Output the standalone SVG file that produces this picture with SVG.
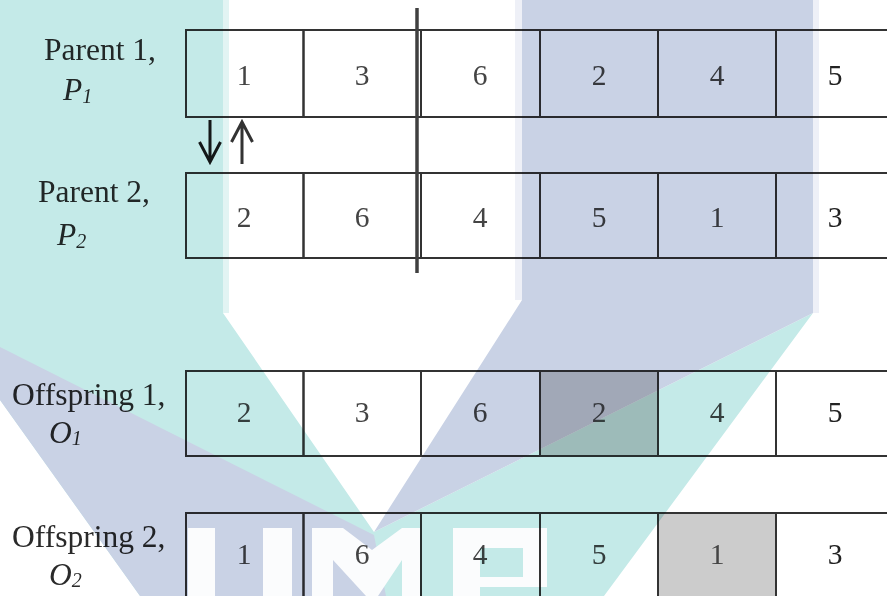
<svg xmlns="http://www.w3.org/2000/svg" width="887" height="596" viewBox="0 0 887 596">
<style>
.cell{fill:none;stroke:#333;stroke-width:2}
.gray{fill:#cccccc;stroke:#333;stroke-width:2}
.lbl{font-family:"Liberation Serif","Times New Roman",serif;font-size:31.5px;fill:#2a2a2a}
.sym{font-family:"Liberation Serif","Times New Roman",serif;font-style:italic;font-size:31.5px;fill:#2a2a2a}
.sub{font-size:20px}
.num{font-family:"Liberation Serif","Times New Roman",serif;font-size:29.5px;text-anchor:middle;fill:#444}
.dk{fill:#222}
.arrow{fill:none;stroke-width:3;stroke-linecap:butt;stroke-linejoin:miter}
</style>
<rect x="0" y="0" width="887" height="596" fill="#ffffff"/>

<g id="parent1">
  <text class="lbl" x="44" y="60">Parent 1,</text>
  <text class="sym" x="63" y="100">P<tspan class="sub" dy="3">1</tspan></text>
  <rect class="cell" x="186" y="30" width="117.5" height="87"/>
  <rect class="cell" x="303.5" y="30" width="117.5" height="87"/>
  <rect class="cell" x="421" y="30" width="119" height="87"/>
  <rect class="cell" x="540" y="30" width="118" height="87"/>
  <rect class="cell" x="658" y="30" width="118" height="87"/>
  <rect class="cell" x="776" y="30" width="118" height="87"/>
  <text class="num" x="244" y="85">1</text>
  <text class="num" x="362" y="85">3</text>
  <text class="num" x="480" y="85">6</text>
  <text class="num" x="599" y="85">2</text>
  <text class="num" x="717" y="85">4</text>
  <text class="num dk" x="835" y="85">5</text>
</g>

<g id="parent2">
  <text class="lbl" x="38" y="202">Parent 2,</text>
  <text class="sym" x="57" y="245">P<tspan class="sub" dy="3">2</tspan></text>
  <rect class="cell" x="186" y="173" width="117.5" height="85"/>
  <rect class="cell" x="303.5" y="173" width="117.5" height="85"/>
  <rect class="cell" x="421" y="173" width="119" height="85"/>
  <rect class="cell" x="540" y="173" width="118" height="85"/>
  <rect class="cell" x="658" y="173" width="118" height="85"/>
  <rect class="cell" x="776" y="173" width="118" height="85"/>
  <text class="num" x="244" y="227">2</text>
  <text class="num" x="362" y="227">6</text>
  <text class="num" x="480" y="227">4</text>
  <text class="num" x="599" y="227">5</text>
  <text class="num" x="717" y="227">1</text>
  <text class="num dk" x="835" y="227">3</text>
</g>

<g id="offspring1">
  <text class="lbl" x="12" y="405">Offspring 1,</text>
  <text class="sym" x="49" y="443">O<tspan class="sub" dy="2">1</tspan></text>
  <rect class="cell" x="186" y="371" width="117.5" height="85"/>
  <rect class="cell" x="303.5" y="371" width="117.5" height="85"/>
  <rect class="cell" x="421" y="371" width="119" height="85"/>
  <rect class="gray" x="540" y="371" width="118" height="85"/>
  <rect class="cell" x="658" y="371" width="118" height="85"/>
  <rect class="cell" x="776" y="371" width="118" height="85"/>
  <text class="num" x="244" y="422">2</text>
  <text class="num" x="362" y="422">3</text>
  <text class="num" x="480" y="422">6</text>
  <text class="num" x="599" y="422">2</text>
  <text class="num" x="717" y="422">4</text>
  <text class="num dk" x="835" y="422">5</text>
</g>

<g id="offspring2">
  <text class="lbl" x="12" y="547">Offspring 2,</text>
  <text class="sym" x="49" y="585">O<tspan class="sub" dy="2">2</tspan></text>
  <rect class="cell" x="186" y="513" width="117.5" height="90"/>
  <rect class="cell" x="303.5" y="513" width="117.5" height="90"/>
  <rect class="cell" x="421" y="513" width="119" height="90"/>
  <rect class="cell" x="540" y="513" width="118" height="90"/>
  <rect class="gray" x="658" y="513" width="118" height="90"/>
  <rect class="cell" x="776" y="513" width="118" height="90"/>
  <text class="num" x="244" y="564">1</text>
  <text class="num" x="362" y="564">6</text>
  <text class="num" x="480" y="564">4</text>
  <text class="num" x="599" y="564">5</text>
  <text class="num" x="717" y="564">1</text>
  <text class="num dk" x="835" y="564">3</text>
</g>

<g id="connectors">
  <line x1="417" y1="8" x2="417" y2="273" stroke="#404040" stroke-width="3.5"/>
  <path class="arrow" stroke="#1a1a1a" d="M210 120 V161 M199.5 142 L210 162 L220.5 142"/>
  <path class="arrow" stroke="#333" d="M242 164 V123 M231.5 142 L242 122 L252.5 142"/>
</g>

<g id="watermark" style="mix-blend-mode:multiply">
  <polygon fill="#c4eae8" points="0,0 223,0 223,313 374,532 813,313 604,596 140,596 0,400"/>
  <rect x="223" y="0" width="6" height="313" fill="#e2f4f3"/>
  <polygon fill="#c9d2e5" points="522,0 813,0 813,313 374,532 522,300"/>
  <rect x="515" y="0" width="7" height="300" fill="#eef0f7"/>
  <rect x="813" y="0" width="6" height="313" fill="#eef0f7"/>
  <polygon fill="#c9d2e5" points="0,347 374,535 386,596 140,596 0,400"/>
  <path fill="#fbfcfd" d="M188 528 H215 V600 H188 Z M263 528 H292 V600 H263 Z"/>
  <polygon fill="#fbfcfd" points="312,528 343,528 372,550 402,528 420,528 420,600 402,600 402,560 378,596 366,596 333,560 333,600 312,600"/>
  <path fill="#fbfcfd" fill-rule="evenodd" d="M453 528 H547 V587 H480 V600 H453 Z M480 548 V577 H523 V548 Z"/>
</g>
</svg>
